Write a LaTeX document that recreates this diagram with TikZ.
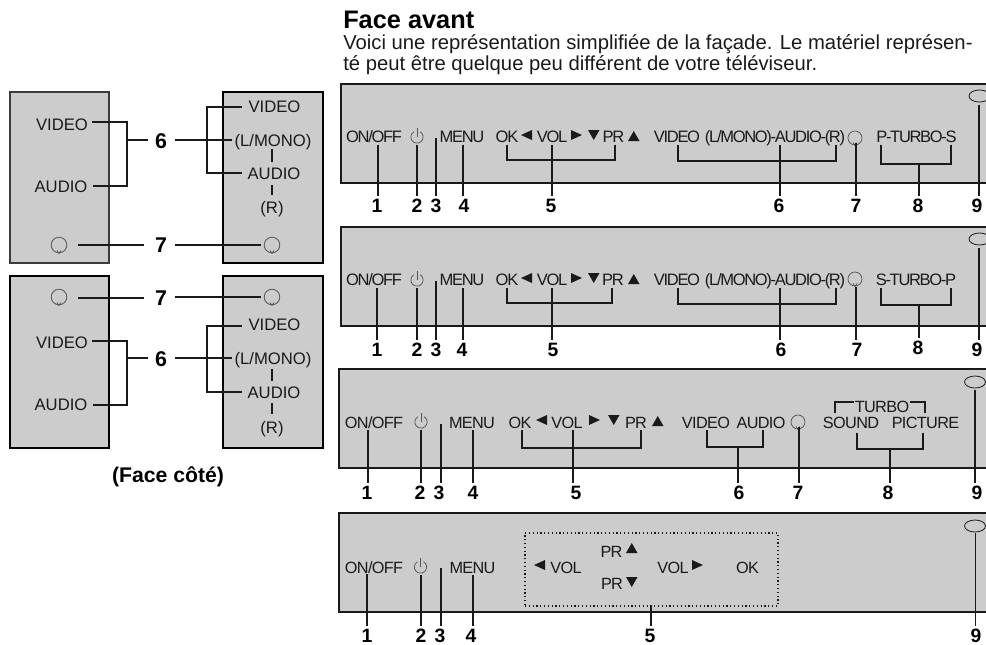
\documentclass[tikz,border=0pt]{standalone}
\usepackage{fontspec}
\usetikzlibrary{shapes.geometric}
\setmainfont{Liberation Sans}
\newfontfamily\tightfam[LetterSpace=-8]{Liberation Sans}
\newfontfamily\labfam[LetterSpace=-4]{Liberation Sans}
\definecolor{ink}{HTML}{1A1A1A}
\definecolor{panelgray}{HTML}{CCCCCC}
\definecolor{icongray}{HTML}{555555}
\tikzset{
  x=0.75pt,y=-0.75pt,
  lab/.style={font=\fontsize{12.2pt}{14pt}\labfam,text=ink,inner sep=0pt,anchor=base},
  tight/.style={font=\fontsize{12.4pt}{14pt}\tightfam,text=ink,inner sep=0pt,anchor=base},
  sidelab/.style={font=\fontsize{12.5pt}{14pt}\selectfont,text=ink,inner sep=0pt,anchor=base},
  num/.style={font=\fontsize{14.5pt}{16pt}\selectfont\bfseries,text=black,inner sep=1.8pt,anchor=base},
  sidenum/.style={font=\fontsize{16pt}{18pt}\selectfont\bfseries,text=black,inner sep=1.8pt,anchor=base},
  ln/.style={draw=ink,line width=0.85pt},
  panel/.style={draw=ink,line width=1.5pt,fill=panelgray},
  sidebox/.style={draw=black,line width=1.5pt,fill=panelgray},
  sideboxg/.style={draw=icongray!70!black,line width=1.5pt,fill=panelgray},
  icon/.style={draw=icongray,line width=0.55pt},
  led/.style={ellipse,draw=ink,line width=0.6pt,fill=panelgray,minimum width=15.75pt,minimum height=9pt,inner sep=0pt},
  hpc/.style={circle,draw=icongray,line width=0.55pt,minimum size=10.5pt,inner sep=0pt},
  hpside/.style={circle,draw=icongray,line width=0.6pt,minimum size=11.7pt,inner sep=0pt},
}
% callout: name, x, top y, digit, number x, number baseline
\newcommand\callout[6]{\node[num] (#1) at (#5,#6) {#4};\coordinate (#1t) at (#2,#3);\draw[ln] (#1t) -- (#1t |- #1.north);}
% bracket: name, x1, x2, y top, y bottom
\newcommand\brk[5]{\coordinate (#1a) at (#2,#4);\coordinate (#1b) at (#3,#4);\coordinate (#1m) at (#2,#5);\draw[ln] (#1a) -- (#1m) -- (#1m -| #1b) -- (#1b);}
% power icon: x, centre y
\newcommand\pwr[2]{\draw[icon] ([shift={(60:4.6pt)}]#1,#2) arc[start angle=60,end angle=-240,radius=4.6pt];\draw[icon] (#1,#2) -- ++(0,-9);}
% headphone icons: name, x, y
\newcommand\hp[3]{\node[hpc] (#1) at (#2,#3) {};\draw[icon] (#2-2,#3+4.5) -- (#2,#3+7.5) -- (#2+2,#3+4.5);}
\newcommand\hps[3]{\node[hpside] (#1) at (#2,#3) {};\draw[icon] (#2-2,#3+5.5) -- (#2,#3+8.5) -- (#2+2,#3+5.5);}
% triangles
\newcommand\tl[3]{\fill[ink] (#1,#3) -- ++(11,-5) -- ++(0,10) -- cycle;}
\newcommand\tr[3]{\fill[ink] (#1,#3-5) -- ++(11,5) -- ++(-11,5) -- cycle;}
\newcommand\tu[3]{\fill[ink] (#1,#3+5) -- ++(11.5,0) -- ++(-5.75,-10) -- cycle;}
\newcommand\td[3]{\fill[ink] (#1,#3-5) -- ++(11.5,0) -- ++(-5.75,10) -- cycle;}
\begin{document}
\begin{tikzpicture}
\clip (0,0) rectangle (986,644);
% ---------- header
\node[font=\fontsize{19pt}{21pt}\selectfont\bfseries,inner sep=0pt,anchor=base west] (title) at (343,28) {Face avant};
\node[font=\fontsize{15.2pt}{17pt}\selectfont,text=ink,inner sep=0pt,anchor=base west] (body1) at (343,49) {Voici une représentation simplifiée de la façade. Le matériel représen-};
\node[font=\fontsize{15.2pt}{17pt}\selectfont,text=ink,inner sep=0pt,anchor=base west] (body2) at (343,70) {té peut être quelque peu différent de votre téléviseur.};
% ---------- panel 1
\path[panel] (341,84) rectangle (992,183);
\node[tight] (aonoff) at (374,142) {ON/OFF};
\pwr{417}{137}
\node[tight] (amenu) at (462,142) {MENU};
\node[tight] (aok) at (507,142) {OK};
\tl{521}{}{135}
\node[tight] (avol) at (552,142) {VOL};
\tr{571}{}{135}
\td{588}{}{135}
\node[tight] (apr) at (613.5,142) {PR};
\tu{628}{}{136}
\node[tight] (avideo) at (677,142) {VIDEO};
\node[tight] (amono) at (775,142) {(L/MONO)-AUDIO-(R)};
\hp{ahp}{855}{138}
\node[tight] (aturbo) at (916.5,142) {P-TURBO-S};
\node[led] (aled) at (979.5,96) {};
\brk{ab5}{507}{615}{145}{160}
\brk{ab6}{678}{836}{145}{161}
\brk{ab8}{881}{951}{145}{164}
\callout{an1}{378}{145}{1}{377}{212}
\callout{an2}{417}{145}{2}{417}{212}
\callout{an3}{436}{138}{3}{436}{212}
\callout{an4}{463}{145}{4}{464}{212}
\callout{an5}{552}{145}{5}{551}{212}
\callout{an6}{780}{145}{6}{779}{212}
\callout{an7}{856}{143}{7}{856}{212}
\callout{an8}{919}{164}{8}{918}{212}
\callout{an9}{979}{105}{9}{977}{212}
% ---------- panel 2
\path[panel] (341,227) rectangle (992,326);
\node[tight] (bonoff) at (374,285) {ON/OFF};
\pwr{417}{280}
\node[tight] (bmenu) at (462,285) {MENU};
\node[tight] (bok) at (507,285) {OK};
\tl{521}{}{278}
\node[tight] (bvol) at (552,285) {VOL};
\tr{571}{}{278}
\td{588}{}{278}
\node[tight] (bpr) at (613,285) {PR};
\tu{628}{}{279}
\node[tight] (bvideo) at (677,285) {VIDEO};
\node[tight] (bmono) at (775,285) {(L/MONO)-AUDIO-(R)};
\hp{bhp}{855}{279}
\node[tight] (bturbo) at (916,285) {S-TURBO-P};
\node[led] (bled) at (979.5,239) {};
\brk{bb5}{507}{612}{288}{303}
\brk{bb6}{678}{836}{288}{304}
\brk{bb8}{881}{951}{288}{305}
\callout{bn1}{377}{288}{1}{377}{356}
\callout{bn2}{417}{288}{2}{417}{356}
\callout{bn3}{436}{281}{3}{436}{356}
\callout{bn4}{463}{288}{4}{462}{356}
\callout{bn5}{552}{288}{5}{553}{356}
\callout{bn6}{780}{288}{6}{781}{356}
\callout{bn7}{856}{287}{7}{857}{356}
\callout{bn8}{919}{305}{8}{918}{354}
\callout{bn9}{979}{248}{9}{977}{356}
% ---------- panel 3
\path[panel] (339,369) rectangle (992,468);
\node[lab] (conoff) at (374,428) {ON/OFF};
\pwr{421}{422}
\node[lab] (cmenu) at (472,428) {MENU};
\node[lab] (cok) at (520,428) {OK};
\tl{536}{}{420}
\node[lab] (cvol) at (567,428) {VOL};
\tr{589}{}{420}
\td{608}{}{420}
\node[lab] (cpr) at (636,428) {PR};
\tu{652}{}{421}
\node[lab] (cvideo) at (706,428) {VIDEO};
\node[lab] (caudio) at (761,428) {AUDIO};
\hp{chp}{798}{422}
\node[lab] (cturbo) at (882,412) {TURBO};
\node[lab] (csound) at (851,428) {SOUND};
\node[lab] (cpict) at (925.5,428) {PICTURE};
\node[led] (cled) at (975,382) {};
\coordinate (ctl) at (835,413);
\coordinate (ctla) at (854,402);
\coordinate (ctr) at (925,413);
\coordinate (ctra) at (910,402);
\draw[ln] (ctl) |- (ctla);
\draw[ln] (ctr) |- (ctra);
\brk{cb5}{522}{641}{430}{448}
\brk{cb6}{707}{763}{430}{447}
\brk{cb8}{857}{923}{433}{449}
\callout{cn1}{368}{430}{1}{367}{499}
\callout{cn2}{421}{430}{2}{420}{499}
\callout{cn3}{441}{424}{3}{439}{499}
\callout{cn4}{473}{430}{4}{473}{499}
\callout{cn5}{573}{430}{5}{576}{499}
\callout{cn6}{738}{447}{6}{739}{499}
\callout{cn7}{799}{427}{7}{798}{499}
\callout{cn8}{890}{449}{8}{888}{499}
\callout{cn9}{975}{390}{9}{977}{499}
% ---------- panel 4
\path[panel] (339,513) rectangle (992,612);
\node[lab] (donoff) at (374,573) {ON/OFF};
\pwr{420.5}{567}
\node[lab] (dmenu) at (472.5,573) {MENU};
\node[draw=ink,line width=0.85pt,dotted,minimum width=189.75pt,minimum height=54.75pt,inner sep=0pt] (dbox) at (651.5,569.5) {};
\tl{534}{}{565}
\node[lab] (dvol) at (566,573) {VOL};
\node[lab] (dpru) at (611.5,557) {PR};
\tu{626}{}{548}
\node[lab] (dprd) at (612,589) {PR};
\td{626}{}{582}
\node[lab] (dvolr) at (673,573) {VOL};
\tr{692}{}{565}
\node[lab] (dok) at (747.5,573) {OK};
\node[led] (dled) at (975,526) {};
\callout{dn1}{367}{574}{1}{367}{642}
\callout{dn2}{421}{575}{2}{421}{642}
\callout{dn3}{441}{568}{3}{440}{642}
\callout{dn4}{473}{575}{4}{471}{642}
\callout{dn5}{651}{606}{5}{650}{642}
\callout{dn9}{975.5}{533}{9}{976}{642}
% ---------- side view, upper
\path[sideboxg] (10,92) rectangle (109,263);
\path[sidebox] (223,92) rectangle (323,263);
\node[sidelab] (evid) at (62,130) {VIDEO};
\node[sidelab] (eaud) at (61,192) {AUDIO};
\hps{ehp}{59}{245}
\node[sidelab] (fvid) at (274.5,112) {VIDEO};
\node[sidelab] (fmono) at (273,146) {(L/MONO)};
\node[sidelab] (faud) at (274,179) {AUDIO};
\node[sidelab] (fr) at (272,213) {(R)};
\hps{fhp}{272}{245}
\node[sidenum] (e6) at (161,148) {6};
\node[sidenum] (e7) at (161,252) {7};
\coordinate (ea) at (92,122);
\coordinate (eb) at (93,186);
\coordinate (ec) at (127,140);
\coordinate (fa) at (242,107);
\coordinate (fb) at (242,173);
\coordinate (fc) at (207,140);
\draw[ln] (ea) -- (ea -| ec) -- (eb -| ec) -- (eb);
\draw[ln] (ec) -- (148,140);
\draw[ln] (175,140) -- (232,140);
\draw[ln] (fa) -- (fa -| fc) -- (fb -| fc) -- (fb);
\draw[ln] (78,245) -- (144,245);
\draw[ln] (175,245) -- (261,245);
\draw[ln] (272,149) -- (272,162);
\draw[ln] (272,185) -- (272,195);
% ---------- side view, lower
\path[sidebox] (10,276) rectangle (109,448);
\path[sidebox] (223,276) rectangle (323,448);
\hps{ghp}{59}{297}
\hps{hhp}{272}{297}
\node[sidelab] (gvid) at (62,348) {VIDEO};
\node[sidelab] (gaud) at (61,410) {AUDIO};
\node[sidelab] (hvid) at (274.5,330) {VIDEO};
\node[sidelab] (hmono) at (273,364) {(L/MONO)};
\node[sidelab] (haud) at (274,398) {AUDIO};
\node[sidelab] (hr) at (272,433) {(R)};
\node[sidenum] (g6) at (161,366) {6};
\node[sidenum] (g7) at (161,305) {7};
\coordinate (ga) at (92,341);
\coordinate (gb) at (93,405);
\coordinate (gc) at (127,358);
\coordinate (ha) at (242,326);
\coordinate (hb) at (242,392);
\coordinate (hc) at (207,358);
\draw[ln] (ga) -- (ga -| gc) -- (gb -| gc) -- (gb);
\draw[ln] (gc) -- (148,358);
\draw[ln] (175,358) -- (232,358);
\draw[ln] (ha) -- (ha -| hc) -- (hb -| hc) -- (hb);
\draw[ln] (78,298) -- (144,298);
\draw[ln] (175,297) -- (261,297);
\draw[ln] (272,369) -- (272,381);
\draw[ln] (272,403) -- (272,414);
\node[font=\fontsize{15.9pt}{18pt}\selectfont\bfseries,inner sep=0pt,anchor=base] (cap) at (168,482) {(Face côté)};
\end{tikzpicture}
\end{document}
